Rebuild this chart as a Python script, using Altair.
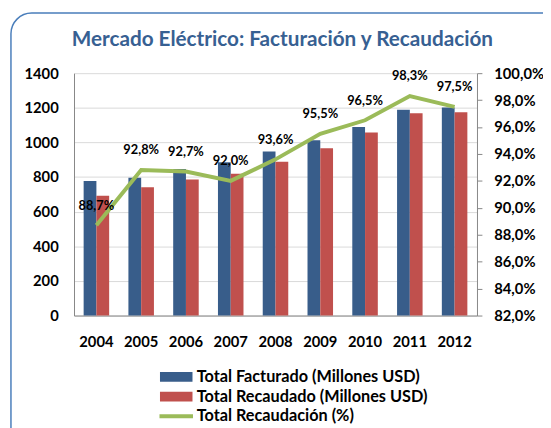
import altair as alt
import pandas as pd

years = ["2004", "2005", "2006", "2007", "2008", "2009", "2010", "2011", "2012"]
facturado = [777, 796, 847, 885, 947, 1012, 1089, 1188, 1201]
recaudado = [692, 741, 786, 819, 889, 966, 1057, 1169, 1174]
recaudacion_pct = [88.7, 92.8, 92.7, 92.0, 93.6, 95.5, 96.5, 98.3, 97.5]

s_fact = "Total Facturado (Millones USD)"
s_rec = "Total Recaudado (Millones USD)"
s_pct = "Total Recaudación (%)"
title_text = "Mercado Eléctrico: Facturación y Recaudación"

bars_df = pd.DataFrame({
    "year": years * 2,
    "serie": [s_fact] * len(years) + [s_rec] * len(years),
    "valor": facturado + recaudado,
})
line_df = pd.DataFrame({"year": years, "pct": recaudacion_pct, "serie": [s_pct] * len(years)})

W, H = 409, 246
FONT = "Lato"
AX = "#868686"

x_enc = alt.X(
    "year:N", sort=years, title=None,
    scale=alt.Scale(paddingInner=0.43, paddingOuter=0.215),
    axis=alt.Axis(labelFont=FONT, labelFontWeight="bold", labelFontSize=15, labelColor="black",
                  labelAngle=0, ticks=False, domainColor=AX, labelPadding=19, grid=False),
)

border = alt.Chart(pd.DataFrame({"k": [0]})).mark_rect(
    fill="white", fillOpacity=0, stroke="#4a7ebb", strokeWidth=1.5, cornerRadius=21
).encode(
    x=alt.value(-64), x2=alt.value(W + 120), y=alt.value(-61), y2=alt.value(H + 160)
)

bars = alt.Chart(bars_df).mark_bar().encode(
    x=x_enc,
    xOffset=alt.XOffset("serie:N", sort=[s_fact, s_rec]),
    y=alt.Y("valor:Q", title=None, scale=alt.Scale(domain=[0, 1400]),
            axis=alt.Axis(orient="left", values=list(range(0, 1401, 200)), format="d",
                          labelFont=FONT, labelFontWeight="bold", labelFontSize=15,
                          labelColor="black", ticks=False, domainColor=AX, labelPadding=16,
                          labelOverlap=False, grid=True, gridColor="#d9d9d9")),
    color=alt.Color("serie:N", sort=[s_fact, s_rec],
                    scale=alt.Scale(domain=[s_fact, s_rec], range=["#385D8A", "#C0504D"]),
                    legend=alt.Legend(title=None, orient="none", legendX=95.5, legendY=300,
                                      symbolType="M-3.3,-1H3.3V1H-3.3Z", symbolSize=100,
                                      symbolStrokeWidth=0, labelOffset=12.5, rowPadding=3,
                                      labelFont=FONT, labelFontSize=16.5, labelLimit=400,
                                      labelFontWeight="bold", labelColor="black", padding=0)),
)

pct_axis = alt.Axis(orient="right", values=[82, 84, 86, 88, 90, 92, 94, 96, 98, 100],
                    labelExpr="replace(format(datum.value, '.1f'), '.', ',') + '%'",
                    labelFont=FONT, labelFontWeight="bold", labelFontSize=15,
                    labelColor="black", tickSize=5, tickColor=AX, domainColor=AX,
                    labelPadding=12, labelOverlap=False, labelBound=False, grid=False)
pct_scale = alt.Scale(domain=[82, 100])

pct_label = "replace(format(datum.pct, '.1f'), '.', ',') + '%'"

line = alt.Chart(line_df).mark_line(strokeWidth=4).encode(
    x=alt.X("year:N", sort=years),
    y=alt.Y("pct:Q", title=None, scale=pct_scale, axis=pct_axis),
    stroke=alt.Stroke("serie:N", scale=alt.Scale(domain=[s_pct], range=["#9BBB59"]),
                      legend=alt.Legend(title=None, orient="none", legendX=95.5, legendY=340,
                                        symbolType="M-3.4,0H3.4", symbolSize=100,
                                        symbolStrokeWidth=4, labelOffset=12.5,
                                        labelFont=FONT, labelFontSize=16.5, labelLimit=400,
                                        labelFontWeight="bold", labelColor="black", padding=0)),
)

labels = alt.Chart(line_df).transform_calculate(lbl=pct_label).mark_text(
    dy=-20, font=FONT, fontWeight="bold", fontSize=13, color="black"
).encode(
    x=alt.X("year:N", sort=years),
    y=alt.Y("pct:Q", title=None, scale=pct_scale, axis=pct_axis),
    text="lbl:N",
)

pct_layer = alt.layer(line, labels)

chart = alt.layer(border, bars, pct_layer).resolve_scale(y="independent").properties(
    width=W, height=H,
    autosize=alt.AutoSizeParams(type="none"),
    padding={"left": 67, "top": 63, "right": 67, "bottom": 111},
    title=alt.TitleParams(title_text, font=FONT, fontSize=21, fontWeight="bold", color="#376092",
                          anchor="middle", frame="group", baseline="alphabetic", offset=-55, dx=7),
).configure_view(stroke=None)

chart.save("out.html", embed_options={"renderer": "svg", "actions": False})
